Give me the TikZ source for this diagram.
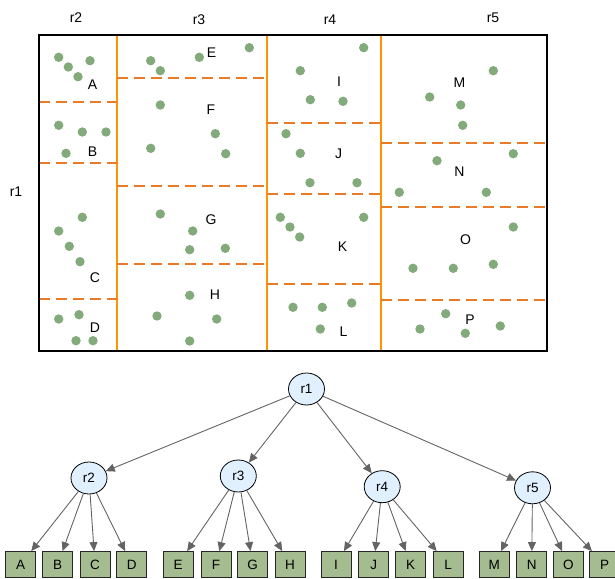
\documentclass[tikz,border=0pt]{standalone}
\usepackage{fontspec}
\setmainfont{Liberation Sans}
\usetikzlibrary{shapes.geometric,arrows.meta}
\definecolor{dotg}{RGB}{130,170,122}
\definecolor{orsolid}{RGB}{255,148,0}
\definecolor{ordash}{RGB}{232,122,40}
\definecolor{leafg}{RGB}{164,188,144}
\definecolor{nodeb}{RGB}{224,240,255}
\definecolor{edgeg}{RGB}{100,100,100}
\tikzset{
  lbl/.style={font=\fontsize{14}{16}\selectfont, inner sep=0pt},
  pt/.style={fill=dotg, draw=none},
  divider/.style={ordash, line width=2pt, dash pattern=on 11pt off 6pt},
  colline/.style={orsolid, line width=2pt},
  inode/.style={ellipse, draw=black, fill=nodeb, minimum width=36pt, minimum height=32pt, inner sep=0pt, line width=0.8pt, font=\fontsize{13.5}{15}\selectfont},
  leaf/.style={rectangle, draw=black!85, fill=leafg, minimum width=30pt, minimum height=26pt, inner sep=0pt, line width=0.8pt, font=\fontsize{13.5}{15}\selectfont},
  edge/.style={draw=edgeg, line width=0.9pt, -{Triangle[length=9pt,width=8pt]}},
}
\begin{document}
\begin{tikzpicture}[x=1pt,y=-1pt]
\useasboundingbox (0,0) rectangle (615,578);
% column labels
\node[lbl] (lr2) at (76,18) {r2};
\node[lbl] (lr3) at (199,20) {r3};
\node[lbl] (lr4) at (330,20) {r4};
\node[lbl] (lr5) at (493,18) {r5};
\node[lbl] (lr1) at (16,192) {r1};
% column lines
\draw[colline] (117,35) -- (117,351);
\draw[colline] (267,35) -- (267,351);
\draw[colline] (381,35) -- (381,351);
% dashed dividers
\draw[divider] (39,102) -- (117,102);
\draw[divider] (39,163) -- (117,163);
\draw[divider] (39,299) -- (117,299);
\draw[divider] (117,78) -- (267,78);
\draw[divider] (117,186) -- (267,186);
\draw[divider] (117,264) -- (267,264);
\draw[divider] (267,123) -- (381,123);
\draw[divider] (267,193.5) -- (381,193.5);
\draw[divider] (267,284) -- (381,284);
\draw[divider] (381,143) -- (547,143);
\draw[divider] (381,206.5) -- (547,206.5);
\draw[divider] (381,300) -- (547,300);
% outer frame
\draw[black, line width=2pt] (39,35) rectangle (547,351);
% dots
\foreach \x/\y in {
 58.7/57.3, 90/60.7, 68.3/67, 78/76.7,
 58.7/125.3, 82.3/132, 106/132, 66/153.3,
 150.7/60.7, 160.3/70.7, 199.3/57.3, 249.3/47.7,
 160.3/105, 215.3/133.7, 150.7/148.3, 225.7/153.7,
 82.3/217.3, 58.7/231, 69.3/246.3, 80/261.7,
 58.7/319, 79/314.7, 76/340.7, 93/340.7,
 160.3/214, 192.7/231, 189.7/249.7, 225.3/248.3,
 189.7/295.3, 157/316, 216.7/319, 189.7/341,
 363.7/47.7, 300.3/70.7, 310.3/99.7, 343/101.3,
 286/133.7, 300.3/153.3, 310/182.7, 357/182.7,
 493.3/70.7, 429.7/97, 460.7/105, 462.7/125.3,
 513.3/153.7, 437/160.7, 399.3/192.3, 486.3/192.3,
 280.3/217.3, 290/227, 299.7/237, 363.7/217.3,
 513.3/227, 413/268.3, 453.3/268.3, 493.3/264.3,
 293/307.3, 322.3/307.3, 351.7/303, 320.3/329,
 445.7/313.7, 420/329, 465.3/333.3, 500.3/326}
  \fill[pt] (\x,\y) circle (4.7pt);
% region labels
\node[lbl] (mA) at (92.5,85) {A};
\node[lbl] (mB) at (92.5,151.5) {B};
\node[lbl] (mC) at (95,277.5) {C};
\node[lbl] (mD) at (95,327.5) {D};
\node[lbl] (mE) at (211.5,53) {E};
\node[lbl] (mF) at (211,110) {F};
\node[lbl] (mG) at (211,220) {G};
\node[lbl] (mH) at (215,295) {H};
\node[lbl] (mI) at (339,81.5) {I};
\node[lbl] (mJ) at (338.5,153.5) {J};
\node[lbl] (mK) at (342.5,246.5) {K};
\node[lbl] (mL) at (343.5,331.5) {L};
\node[lbl] (mM) at (459.5,82.5) {M};
\node[lbl] (mN) at (459.5,171.5) {N};
\node[lbl] (mO) at (465.5,240) {O};
\node[lbl] (mP) at (470,319.5) {P};
% tree
\node[inode] (r1) at (306.5,389) {r1};
\node[inode] (r2) at (89,478) {r2};
\node[inode] (r3) at (238.3,476) {r3};
\node[inode] (r4) at (382.2,486.7) {r4};
\node[inode] (r5) at (532.5,487.8) {r5};
\foreach \n/\x in {A/20.7, B/57.7, C/95, D/131.7, E/178, F/216, G/252.7, H/290,
  I/336, J/373.8, K/410.5, L/448, M/494.3, N/531.7, O/568.3, P/604.5}
  \node[leaf] (\n) at (\x,564.5) {\n};
\foreach \c in {r2,r3,r4,r5} \draw[edge] (r1) -- (\c);
\foreach \c in {A,B,C,D} \draw[edge] (r2) -- (\c);
\foreach \c in {E,F,G,H} \draw[edge] (r3) -- (\c);
\foreach \c in {I,J,K,L} \draw[edge] (r4) -- (\c);
\foreach \c in {M,N,O,P} \draw[edge] (r5) -- (\c);
\end{tikzpicture}
\end{document}
